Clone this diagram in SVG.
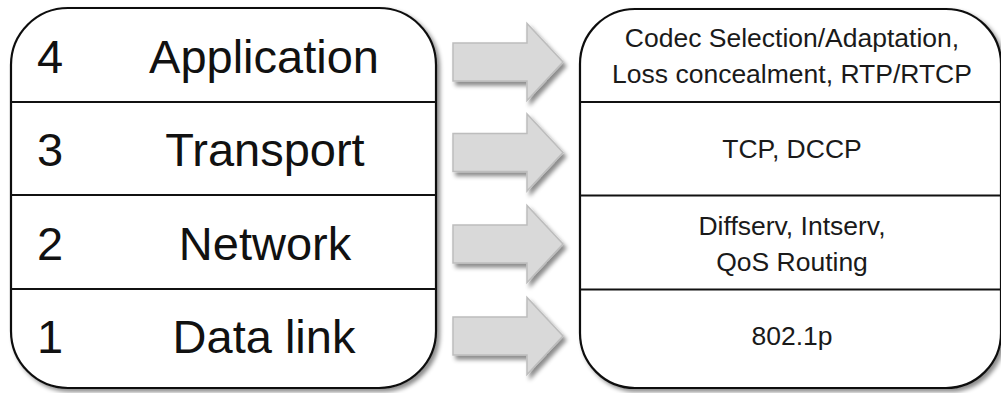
<svg xmlns="http://www.w3.org/2000/svg" width="1001" height="393" viewBox="0 0 1001 393">
  <style>
    .box { fill: #ffffff; stroke: #111111; stroke-width: 2.2; }
    .div { stroke: #111111; stroke-width: 2.2; }
    .big { font-family: "Liberation Sans", Arial, sans-serif; font-size: 47px; fill: #111111; }
    .mid { text-anchor: middle; }
    .small { font-family: "Liberation Sans", Arial, sans-serif; font-size: 26.5px; fill: #1a1a1a; text-anchor: middle; }
    .arrow { fill: #d9d9d9; stroke: #bdbdbd; stroke-width: 1.5; }
  </style>
  <defs>
    <filter id="sh" x="-10%" y="-10%" width="130%" height="130%">
      <feDropShadow dx="3" dy="3" stdDeviation="2.2" flood-color="#000000" flood-opacity="0.45"/>
    </filter>
    <filter id="ash" x="-20%" y="-20%" width="150%" height="150%">
      <feDropShadow dx="3" dy="4" stdDeviation="2.2" flood-color="#000000" flood-opacity="0.45"/>
    </filter>
    <path id="arr" d="M453,-19 H527 V-38.5 L563,0 L527,38.5 V19 H453 Z"/>
  </defs>

  <g id="layers">
    <rect class="box" x="11" y="8" width="425" height="380" rx="57" ry="57" filter="url(#sh)"/>
    <line class="div" x1="11" y1="102" x2="436" y2="102"/>
    <line class="div" x1="11" y1="195" x2="436" y2="195"/>
    <line class="div" x1="11" y1="289" x2="436" y2="289"/>
  </g>
  <g id="layer4">
    <text class="big" x="37" y="73">4</text>
    <text class="big mid" x="264" y="73">Application</text>
  </g>
  <g id="layer3">
    <text class="big" x="37" y="166">3</text>
    <text class="big mid" x="265" y="166">Transport</text>
  </g>
  <g id="layer2">
    <text class="big" x="37" y="260">2</text>
    <text class="big mid" x="265" y="260">Network</text>
  </g>
  <g id="layer1">
    <text class="big" x="37" y="353">1</text>
    <text class="big mid" x="264" y="353">Data link</text>
  </g>

  <g id="protocols">
    <rect class="box" x="580" y="9" width="421" height="379" rx="55" ry="55" filter="url(#sh)"/>
    <line class="div" x1="580" y1="102" x2="1001" y2="102"/>
    <line class="div" x1="580" y1="195.5" x2="1001" y2="195.5"/>
    <line class="div" x1="580" y1="289.5" x2="1001" y2="289.5"/>
  </g>
  <g id="proto4">
    <text class="small" x="792" y="47">Codec Selection/Adaptation,</text>
    <text class="small" x="792" y="83">Loss concealment, RTP/RTCP</text>
  </g>
  <g id="proto3">
    <text class="small" x="792" y="158">TCP, DCCP</text>
  </g>
  <g id="proto2">
    <text class="small" x="792" y="235">Diffserv, Intserv,</text>
    <text class="small" x="792" y="271">QoS Routing</text>
  </g>
  <g id="proto1">
    <text class="small" x="792" y="345">802.1p</text>
  </g>

  <g id="connectors" filter="url(#ash)">
    <use href="#arr" class="arrow" transform="translate(0,62)"/>
    <use href="#arr" class="arrow" transform="translate(0,152.5)"/>
    <use href="#arr" class="arrow" transform="translate(0,244)"/>
    <use href="#arr" class="arrow" transform="translate(0,336)"/>
  </g>
</svg>
